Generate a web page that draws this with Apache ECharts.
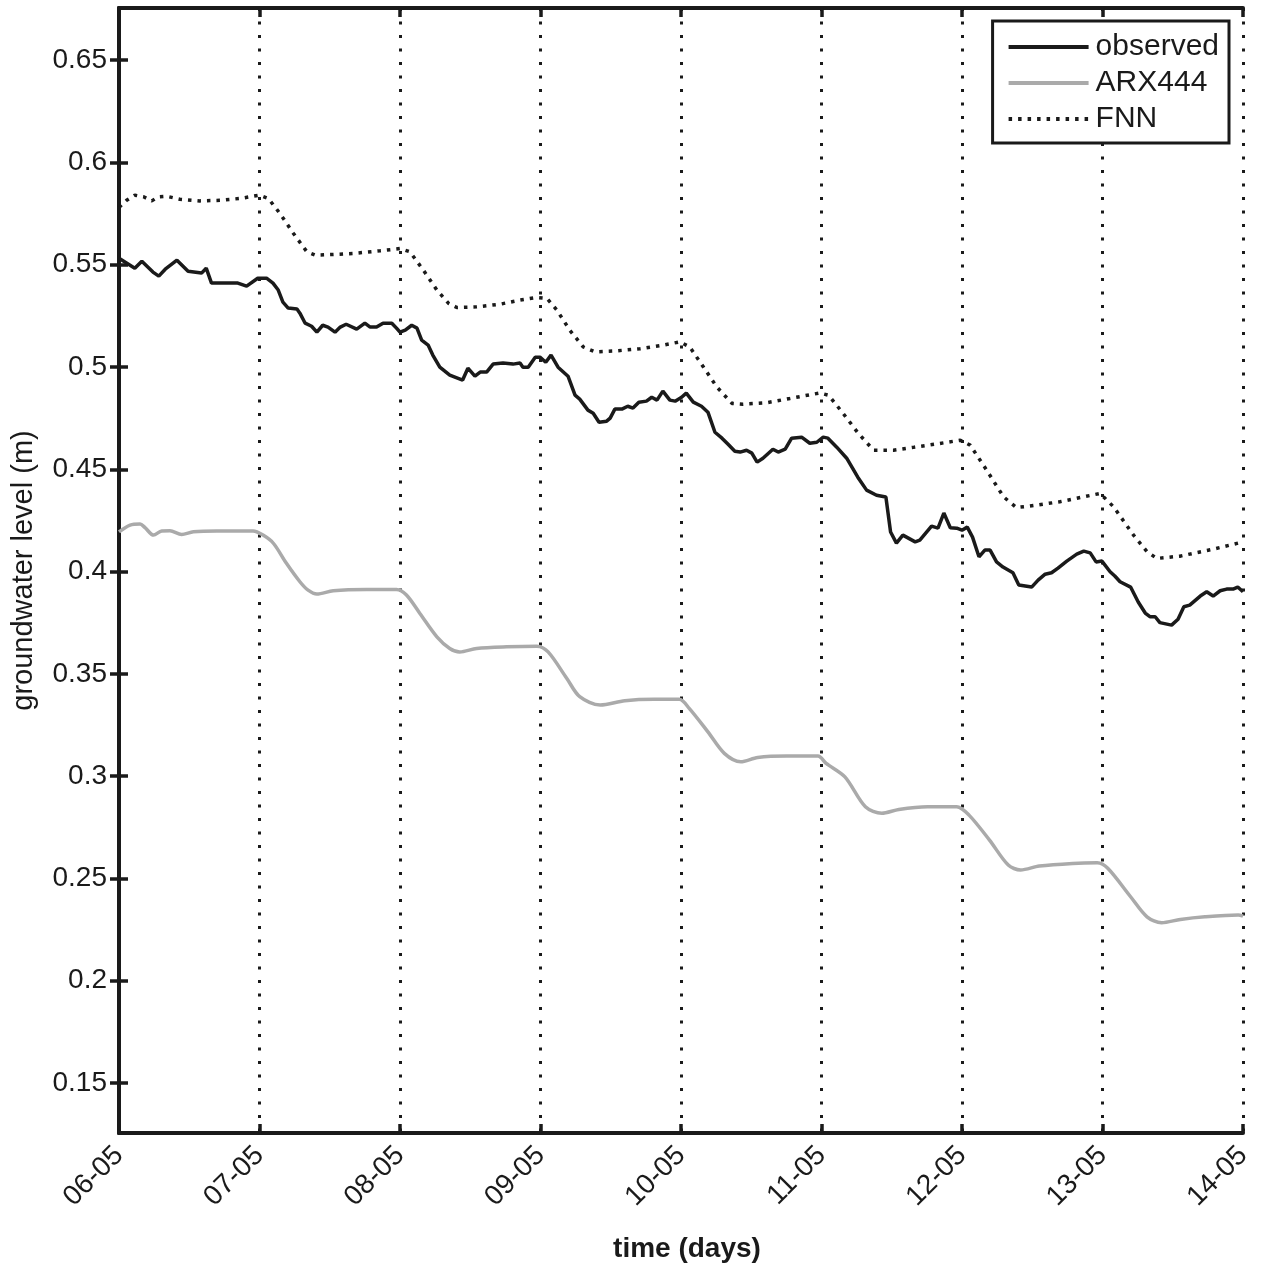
<!DOCTYPE html>
<html>
<head>
<meta charset="utf-8">
<script src="https://cdn.jsdelivr.net/npm/echarts@6/dist/echarts.min.js"></script>
<style>
  html, body { margin: 0; padding: 0; background: #fff; }
  #main { width: 1262px; height: 1267px; }
</style>
</head>
<body>
<div id="main"></div>
<script>
// x in hours since 06-05 00:00, y = groundwater level (m)
var dayLabels = ['06-05', '07-05', '08-05', '09-05', '10-05', '11-05', '12-05', '13-05', '14-05'];
var yTicks = [0.15, 0.2, 0.25, 0.3, 0.35, 0.4, 0.45, 0.5, 0.55, 0.6, 0.65];

var obsHours = [0, 2.7, 3.9, 5.8, 6.8, 7.9, 9.9, 11.8, 14.1, 14.9, 15.8, 18.6, 20.3, 21.8, 23.7, 25.2, 26.3, 27.2, 28.0, 28.9,
    30.4, 30.9, 31.8, 32.9, 33.8, 34.8, 35.7, 36.9, 37.8, 38.8, 40.6, 42.0, 42.9, 44.0, 45.1, 46.6, 47.4, 48.0, 48.9, 50.0,
    50.9, 51.7, 52.8, 53.6, 54.8, 56.5, 58.7, 59.6, 60.8, 61.7, 62.8, 63.9, 65.6, 67.3, 68.5, 69.0, 69.9, 71.1, 71.9, 72.9,
    73.8, 75.0, 76.7, 77.9, 78.7, 80.1, 81.0, 82.0, 83.3, 83.9, 84.7, 85.9, 86.9, 87.8, 88.8, 90.1, 91.0, 91.9, 92.9, 94.1,
    95.0, 96.1, 96.9, 98.1, 99.5, 100.6, 101.8, 103.0, 104.0, 105.2, 106.1, 107.2, 108.1, 109.0, 110.0, 111.7, 112.6, 113.8, 114.9, 116.6,
    118.0, 119.2, 120.3, 121.1, 122.6, 124.3, 126.2, 127.7, 129.4, 131.0, 131.8, 132.8, 133.9, 136.0, 136.8, 138.8, 139.9, 140.9, 142.0, 143.1,
    144.0, 144.9, 145.8, 146.9, 147.9, 148.8, 149.9, 151.0, 152.7, 153.7, 155.9, 157.0, 158.2, 159.3, 160.4, 161.9, 163.6, 164.8, 165.9, 166.9,
    167.9, 169.3, 170.1, 171.0, 172.8, 174.1, 175.3, 176.1, 177.0, 177.8, 179.8, 180.9, 181.9, 182.9, 184.7, 185.8, 186.9, 188.1, 189.2, 190.3,
    191.1, 192.0];
var obsLevel = [0.5532, 0.5483, 0.5517, 0.5464, 0.5444, 0.5478, 0.5522, 0.5468, 0.5459, 0.5483, 0.5410, 0.5410, 0.5410, 0.5395, 0.5434, 0.5434, 0.5410, 0.5376, 0.5317, 0.5288,
    0.5283, 0.5263, 0.5214, 0.5199, 0.5170, 0.5204, 0.5195, 0.5170, 0.5195, 0.5209, 0.5185, 0.5214, 0.5195, 0.5195, 0.5214, 0.5214, 0.5190, 0.5170, 0.5180, 0.5204,
    0.5190, 0.5131, 0.5107, 0.5058, 0.4999, 0.4960, 0.4936, 0.4994, 0.4955, 0.4975, 0.4975, 0.5014, 0.5019, 0.5014, 0.5019, 0.4999, 0.4999, 0.5048, 0.5048, 0.5023,
    0.5058, 0.4999, 0.4955, 0.4862, 0.4843, 0.4789, 0.4774, 0.4730, 0.4735, 0.4750, 0.4794, 0.4794, 0.4808, 0.4799, 0.4828, 0.4833, 0.4852, 0.4838, 0.4882, 0.4838,
    0.4833, 0.4852, 0.4872, 0.4828, 0.4808, 0.4779, 0.4681, 0.4652, 0.4623, 0.4588, 0.4584, 0.4593, 0.4579, 0.4535, 0.4554, 0.4598, 0.4584, 0.4598, 0.4652, 0.4657,
    0.4627, 0.4632, 0.4657, 0.4652, 0.4608, 0.4554, 0.4461, 0.4398, 0.4373, 0.4364, 0.4193, 0.4139, 0.4178, 0.4145, 0.4154, 0.4222, 0.4212, 0.4286, 0.4214, 0.4212,
    0.4202, 0.4217, 0.4168, 0.4072, 0.4105, 0.4105, 0.4047, 0.4022, 0.3994, 0.3934, 0.3924, 0.3958, 0.3987, 0.3994, 0.4017, 0.4051, 0.4085, 0.4100, 0.4091, 0.4047,
    0.4051, 0.3999, 0.3978, 0.3950, 0.3924, 0.3851, 0.3797, 0.3779, 0.3779, 0.3750, 0.3738, 0.3767, 0.3828, 0.3836, 0.3880, 0.3901, 0.3880, 0.3906, 0.3914, 0.3914,
    0.3924, 0.3901];

var arxHours = [0, 1.9, 3.6, 4.4, 5.9, 7.3, 8.7, 10.7, 12.7, 16.7, 22.9, 24.6, 26.4, 28.6, 30.9, 32.3, 33.8, 36.6, 42.3, 47.4,
    49.1, 51.4, 54.3, 56.5, 58.2, 61.1, 66.2, 71.4, 73.3, 76.5, 78.7, 82.2, 86.4, 91.4, 95.7, 97.4, 100.6, 103.4, 106.2, 109.1,
    114.1, 119.4, 120.8, 124.0, 127.5, 130.3, 133.2, 138.1, 143.1, 145.2, 148.7, 151.9, 154.0, 157.2, 162.9, 167.1, 168.9, 172.8, 175.6, 178.1,
    181.3, 185.5, 191.2, 192.0];
var arxLevel = [0.4194, 0.4227, 0.4232, 0.4216, 0.4178, 0.4198, 0.4199, 0.4181, 0.4194, 0.4198, 0.4198, 0.4178, 0.4137, 0.4040, 0.3950, 0.3909, 0.3890, 0.3906, 0.3912, 0.3912,
    0.3885, 0.3795, 0.3681, 0.3624, 0.3607, 0.3624, 0.3632, 0.3635, 0.3607, 0.3477, 0.3388, 0.3347, 0.3368, 0.3375, 0.3375, 0.3331, 0.3216, 0.3111, 0.3070, 0.3091,
    0.3098, 0.3098, 0.3062, 0.2996, 0.2850, 0.2818, 0.2837, 0.2850, 0.2850, 0.2809, 0.2687, 0.2565, 0.2541, 0.2560, 0.2573, 0.2576, 0.2549, 0.2410, 0.2312, 0.2283,
    0.2299, 0.2312, 0.2321, 0.2315];

var fnnHours = [0, 1.3, 2.7, 4.2, 5.6, 6.7, 8.1, 10.4, 13.8, 17.3, 20.7, 24.0, 25.5, 27.5, 29.8, 32.1, 33.5, 36.6, 40.0, 44.6,
    48.0, 49.7, 52.0, 54.3, 56.3, 57.7, 61.1, 65.1, 68.5, 71.3, 73.1, 74.8, 77.0, 79.3, 81.3, 85.0, 89.0, 93.0, 95.8, 97.5,
    99.8, 102.1, 104.7, 106.6, 110.6, 114.6, 119.7, 121.2, 123.7, 126.3, 128.9, 132.3, 135.7, 140.2, 143.7, 145.4, 148.2, 151.1, 153.3, 155.6,
    160.7, 167.6, 169.9, 173.3, 175.6, 177.3, 181.2, 186.9, 192.0];
var fnnLevel = [0.5780, 0.5815, 0.5840, 0.5832, 0.5812, 0.5832, 0.5835, 0.5820, 0.5812, 0.5815, 0.5824, 0.5840, 0.5824, 0.5750, 0.5653, 0.5563, 0.5547, 0.5550, 0.5555, 0.5568,
    0.5579, 0.5563, 0.5473, 0.5376, 0.5311, 0.5291, 0.5294, 0.5307, 0.5327, 0.5340, 0.5335, 0.5278, 0.5180, 0.5098, 0.5074, 0.5079, 0.5089, 0.5107, 0.5123, 0.5098,
    0.5001, 0.4903, 0.4822, 0.4818, 0.4825, 0.4846, 0.4873, 0.4862, 0.4773, 0.4675, 0.4593, 0.4593, 0.4607, 0.4626, 0.4642, 0.4618, 0.4496, 0.4365, 0.4313, 0.4320,
    0.4341, 0.4382, 0.4316, 0.4178, 0.4097, 0.4064, 0.4075, 0.4109, 0.4145];

function pairs(xs, ys) {
    var out = [];
    for (var i = 0; i < xs.length; i++) {
        out.push([xs[i], ys[i]]);
    }
    return out;
}

var myChart = echarts.init(document.getElementById('main'));
var font = 'Liberation Sans, Arial, Helvetica, sans-serif';
var ink = '#1a1a1a';
var frame = { show: true, lineStyle: { color: ink, width: 4 } };
var tick = { show: true, inside: true, length: 9, lineStyle: { color: ink, width: 3.5 } };

var option = {
    backgroundColor: '#fff',
    animation: false,
    textStyle: { fontFamily: font },
    grid: { left: 119, right: 19, top: 8, bottom: 134, outerBoundsMode: 'none', containLabel: false },
    legend: {
        orient: 'vertical',
        right: 33,
        top: 21,
        padding: [11, 10, 9, 14],
        borderColor: ink,
        borderWidth: 3,
        backgroundColor: '#fff',
        itemWidth: 80,
        itemHeight: 12,
        itemGap: 6,
        itemStyle: { opacity: 0 },
        lineStyle: { width: 4 },
        textStyle: { fontSize: 30, color: ink, lineHeight: 30, fontFamily: font, padding: [0, 0, 0, 2] },
        data: ['observed', 'ARX444', 'FNN']
    },
    xAxis: [{
        type: 'value',
        min: 0,
        max: 192,
        interval: 24,
        name: 'time (days)',
        nameLocation: 'middle',
        nameGap: 102,
        nameTextStyle: { fontSize: 28, fontWeight: 'bold', color: ink, fontFamily: font, padding: [0, 0, 0, 12] },
        axisLine: frame,
        axisTick: tick,
        axisLabel: {
            rotate: 45,
            margin: 18,
            fontSize: 28,
            color: ink,
            fontFamily: font,
            formatter: function (v) { return dayLabels[Math.round(v / 24)]; }
        },
        splitLine: { show: true, lineStyle: { color: ink, width: 3, type: [3, 10.5] } }
    }, {
        type: 'value',
        position: 'top',
        min: 0,
        max: 192,
        interval: 24,
        axisLine: frame,
        axisTick: tick,
        axisLabel: { show: false },
        splitLine: { show: false }
    }],
    yAxis: [{
        type: 'value',
        min: 0.1255,
        max: 0.6755,
        name: 'groundwater level (m)',
        nameLocation: 'middle',
        nameGap: 81,
        nameTextStyle: { fontSize: 29, color: ink, fontFamily: font },
        axisLine: frame,
        axisTick: { show: true, inside: true, length: 9, customValues: yTicks, lineStyle: { color: ink, width: 3.5 } },
        axisLabel: { margin: 12, fontSize: 28, color: ink, fontFamily: font, customValues: yTicks,
            formatter: function (v) { return String(+v.toFixed(2)); } },
        splitLine: { show: false }
    }, {
        type: 'value',
        position: 'right',
        min: 0.1255,
        max: 0.6755,
        axisLine: frame,
        axisTick: { show: true, inside: true, length: 9, customValues: yTicks, lineStyle: { color: ink, width: 3.5 } },
        axisLabel: { show: false, customValues: yTicks },
        splitLine: { show: false }
    }],
    series: [{
        name: 'observed',
        type: 'line',
        symbol: 'none',
        data: pairs(obsHours, obsLevel),
        lineStyle: { color: ink, width: 3.5 },
        itemStyle: { color: ink },
        z: 4
    }, {
        name: 'ARX444',
        type: 'line',
        symbol: 'none',
        smooth: 0.3,
        data: pairs(arxHours, arxLevel),
        lineStyle: { color: '#aaaaaa', width: 3.5 },
        itemStyle: { color: '#aaaaaa' },
        z: 3
    }, {
        name: 'FNN',
        type: 'line',
        symbol: 'none',
        data: pairs(fnnHours, fnnLevel),
        lineStyle: { color: ink, width: 3.5, type: [3.5, 6] },
        itemStyle: { color: ink },
        z: 3
    }]
};

myChart.setOption(option);
</script>
</body>
</html>
